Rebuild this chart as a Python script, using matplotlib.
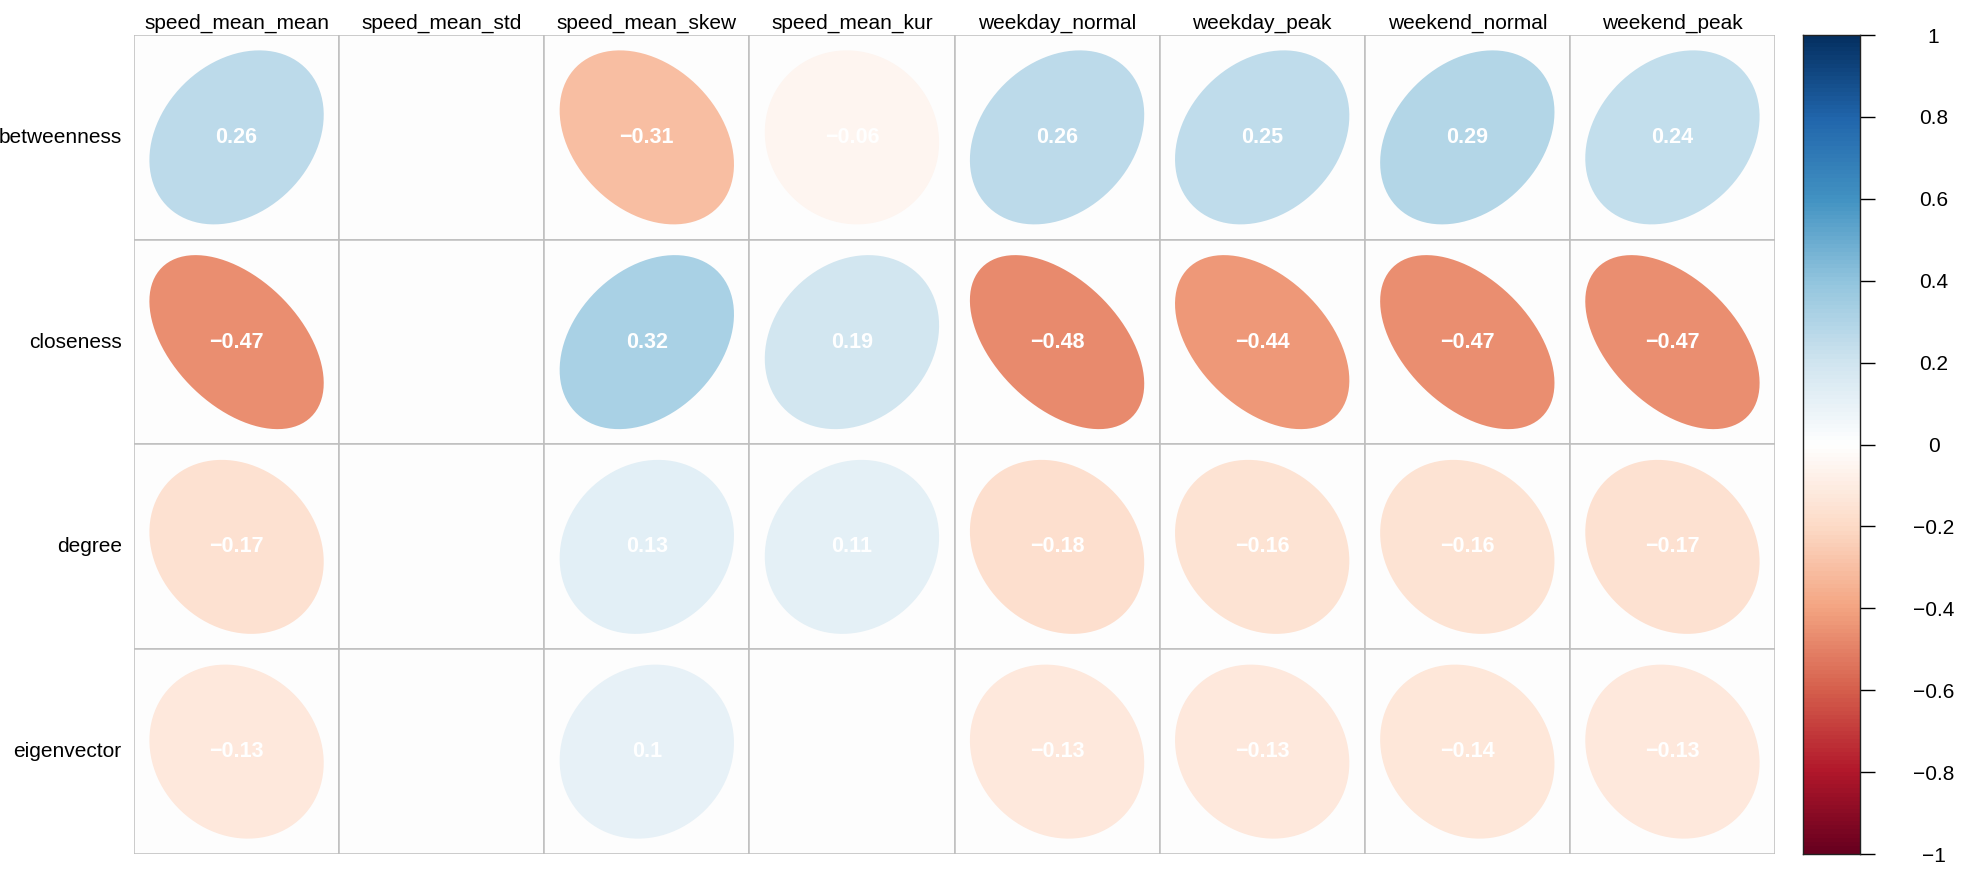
import numpy as np
import matplotlib
matplotlib.use('Agg')
import matplotlib.pyplot as plt
from matplotlib.colors import LinearSegmentedColormap, Normalize
from matplotlib.patches import Polygon, Rectangle

plt.rcParams['font.family'] = ['Liberation Sans', 'DejaVu Sans']

# Correlation matrix (rows x columns), NaN = not shown
rows = ['betweenness', 'closeness', 'degree', 'eigenvector']
cols = ['speed_mean_mean', 'speed_mean_std', 'speed_mean_skew', 'speed_mean_kur',
        'weekday_normal', 'weekday_peak', 'weekend_normal', 'weekend_peak']
nan = np.nan
betweenness = [0.26, nan, -0.31, -0.06, 0.26, 0.25, 0.29, 0.24]
closeness = [-0.47, nan, 0.32, 0.19, -0.48, -0.44, -0.47, -0.47]
degree = [-0.17, nan, 0.13, 0.11, -0.18, -0.16, -0.16, -0.17]
eigenvector = [-0.13, nan, 0.10, nan, -0.13, -0.13, -0.14, -0.13]
corr = np.array([betweenness, closeness, degree, eigenvector])

cbar_ticks = [-1, -0.8, -0.6, -0.4, -0.2, 0, 0.2, 0.4, 0.6, 0.8, 1]

# corrplot RdBu palette
rdbu = ["#67001F", "#B2182B", "#D6604D", "#F4A582", "#FDDBC7", "#FFFFFF",
        "#D1E5F0", "#92C5DE", "#4393C3", "#2166AC", "#053061"]
cmap = LinearSegmentedColormap.from_list('corrRdBu', rdbu, N=200)
norm = Normalize(-1, 1)


def fmt(v):
    return format(v, 'g').replace('-', '\u2212')


W, H = 1967, 871
fig = plt.figure(figsize=(W / 100, H / 100), dpi=100)
gx0, gx1, gy0, gy1 = 134, 1775, 35, 854
ax = fig.add_axes([gx0 / W, 1 - gy1 / H, (gx1 - gx0) / W, (gy1 - gy0) / H])
nr, nc = corr.shape
ax.set_xlim(0, nc)
ax.set_ylim(nr, 0)
ax.axis('off')


def ell_dat(rho, n=99):
    k = np.linspace(0, 2 * np.pi, n)
    a = np.arccos(rho)
    x = np.cos(k + a / 2) / 2
    y = np.cos(k - a / 2) / 2
    return 0.85 * x, 0.85 * y


for i in range(nr):
    for j in range(nc):
        ax.add_patch(Rectangle((j, i), 1, 1, facecolor='#FDFDFD',
                               edgecolor='#BEBEBE', lw=1.1, zorder=1))
        v = corr[i, j]
        if np.isnan(v):
            continue
        ex, ey = ell_dat(v)
        pts = np.column_stack([j + 0.5 + ex, i + 0.5 - ey])
        ax.add_patch(Polygon(pts, closed=True, facecolor=cmap(norm(v)),
                             edgecolor='none', zorder=2))
        ax.text(j + 0.5, i + 0.5, fmt(round(v, 2)), ha='center', va='center',
                color='white', fontsize=15.5, fontweight='bold', zorder=3)

for j, c in enumerate(cols):
    ax.text(j + 0.5, -0.01, c, ha='center', va='bottom', fontsize=15,
            color='black', clip_on=False)
for i, r in enumerate(rows):
    ax.text(-0.06, i + 0.5, r, ha='right', va='center', fontsize=15,
            color='black', clip_on=False)

# colour legend
cax = fig.add_axes([1803 / W, 1 - gy1 / H, (1860 - 1803) / W, (gy1 - gy0) / H])
grad = np.linspace(-1, 1, 200).reshape(-1, 1)
cax.imshow(grad, cmap=cmap, norm=norm, aspect='auto', origin='lower',
           extent=[0, 1, -1, 1])
cax.set_xlim(0, 1)
cax.set_ylim(-1, 1)
cax.set_xticks([])
cax.yaxis.tick_right()
cax.set_yticks(cbar_ticks)
cax.set_yticklabels([fmt(t) for t in cbar_ticks], fontsize=15, ha='center')
cax.tick_params(axis='y', length=11, width=1.0, pad=42, color='black')
for s in cax.spines.values():
    s.set_linewidth(1.0)
    s.set_color('#222222')

fig.savefig('out.png', dpi=100, facecolor='white')
